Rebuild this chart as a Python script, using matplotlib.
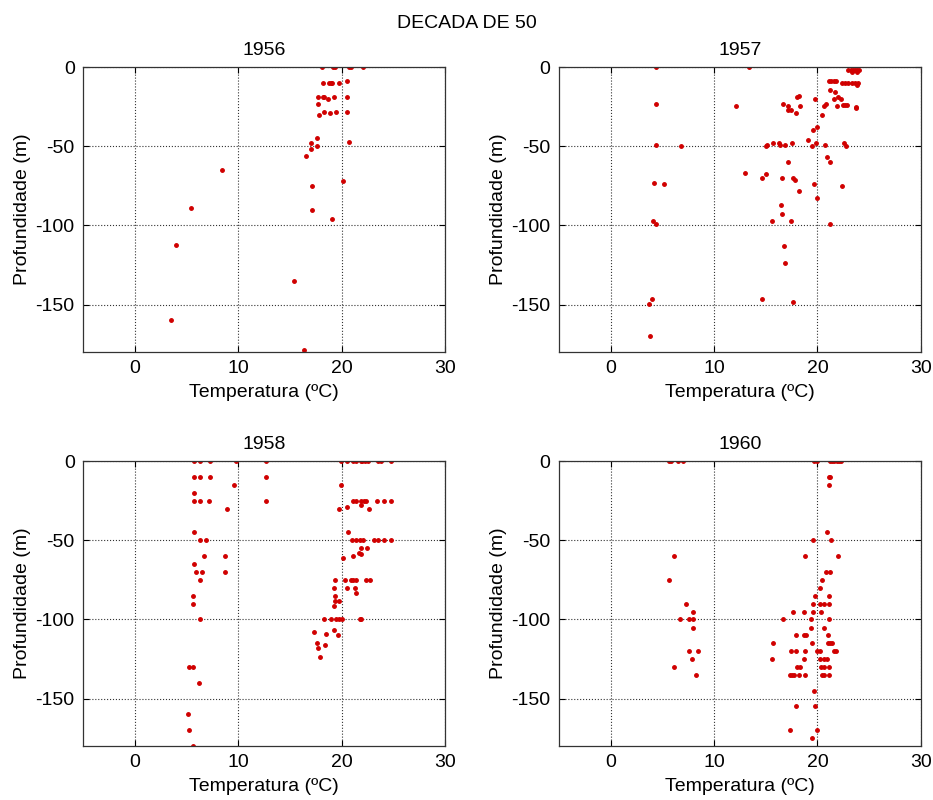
import matplotlib
matplotlib.use("Agg")
import matplotlib.pyplot as plt

plt.rcParams['font.family'] = ['Liberation Sans', 'DejaVu Sans']
plt.rcParams['font.size'] = 14
plt.rcParams['axes.unicode_minus'] = False

# 1956
t1956 = [18.1, 19.2, 19.4, 20.7, 20.9, 22.1,
         18.2, 18.8, 19.0, 19.1, 19.75, 20.5,
         17.7, 18.2, 18.3, 18.7, 19.3, 20.5,
         17.7, 18.3, 18.9, 19.5, 20.5, 17.8,
         17.6, 17.0, 17.6, 17.0, 20.7, 16.6,
         8.4, 17.1, 20.1, 5.4, 17.1, 19.1,
         4.0, 15.4, 3.5, 16.4]
z1956 = [0, 0, 0, 0, 0, 0,
         -10, -10, -10, -10, -10, -9,
         -19, -19, -19, -20, -19, -19,
         -23, -28, -29, -28, -28, -30,
         -45, -48, -50, -52, -47, -56,
         -65, -75, -72, -89, -90, -96,
         -112.5, -135, -159.5, -178.5]

# 1957
t1957 = [4.4, 13.4,
         23.0, 23.2, 23.4, 23.6, 23.8, 24.0, 23.3, 23.8,
         21.1, 21.3, 21.6, 21.8,
         22.4, 22.7, 23.0, 23.3, 23.6, 23.9, 23.8,
         21.2, 21.7, 22.0, 22.3, 21.6, 19.8, 18.0, 18.2,
         4.35, 16.7, 20.8, 12.1, 17.2, 18.3, 20.6, 21.9, 17.2, 17.4, 17.9, 22.5, 22.7, 22.9, 23.75, 23.7,
         20.4, 20.0, 19.6, 19.1, 19.9, 22.6, 15.7, 16.3, 17.5, 19.5, 22.8, 20.7, 4.35, 15.1, 16.4, 16.9, 6.8, 15.0,
         17.2, 21.2, 20.9,
         13.0, 14.6, 16.6, 17.6, 15.0, 17.8, 18.2,
         4.2, 5.2, 19.7, 22.4,
         20.0, 16.5, 16.6, 15.6, 17.4, 4.1, 4.4, 21.2,
         16.8, 16.9, 14.6, 4.0, 3.7, 17.6, 3.8]
z1957 = [0, 0,
         -2, -2, -2, -2, -2, -2, -3, -3,
         -9, -9, -9, -9,
         -10, -10, -10, -10, -10, -10, -11,
         -14.4, -15.7, -18.6, -20, -20, -20, -19, -18,
         -23.5, -23.5, -23.5, -24.6, -24.6, -24.6, -24.6, -24.6, -27, -27, -28.8, -24, -24, -24, -25, -26,
         -30, -37.7, -39.8, -45.8, -47.7, -47.7, -47.7, -47.7, -47.7, -49.8, -49.8, -49, -49, -49, -49, -49, -50, -50,
         -60, -60, -56.8,
         -67, -70, -70, -70, -67.4, -71.6, -78,
         -72.9, -74, -74, -74.8,
         -82.8, -86.9, -92.8, -97, -97, -97, -99, -99,
         -113, -124, -146.6, -146.6, -149.4, -148.5, -170]

# 1958
t1958 = [5.7, 6.3, 7.3, 9.8, 12.7, 19.9, 20.5, 21.1, 21.4, 21.9, 22.0, 22.3, 22.55, 23.5, 23.8, 24.8,
         5.7, 6.35, 7.3, 12.7,
         9.6, 19.9,
         5.7,
         5.7, 6.3, 7.2, 12.7, 21.1, 21.4, 21.9, 22.2, 22.4, 23.4, 24.1, 24.8,
         21.9, 22.6, 20.5, 19.7, 8.9,
         5.7, 20.6,
         6.35, 6.9, 21.0, 21.4, 21.8, 22.1, 23.1, 23.5, 24.1, 24.8,
         21.9, 22.5, 21.7, 21.9, 20.1, 21.1, 6.7, 8.7,
         5.7, 5.9, 6.5, 8.7, 6.35,
         19.35, 20.3, 20.95, 21.1, 21.4, 22.4, 22.7,
         20.5, 21.3, 21.4, 19.25, 19.4, 19.35, 19.7, 19.3, 5.6, 5.6, 6.35,
         18.3, 18.95, 19.5, 19.75, 20.0, 21.8, 21.9,
         19.25, 19.65, 17.3, 18.5, 17.6, 18.4, 17.7, 17.9,
         5.2, 5.6, 6.2, 5.1, 5.2, 5.6]
z1958 = [0, 0, 0, 0, 0, 0, 0, 0, 0, 0, 0, 0, 0, 0, 0, 0,
         -10, -10, -10, -10,
         -15, -15,
         -20,
         -25, -25, -25, -25, -25, -25, -25, -25, -25, -25, -25, -25,
         -27.7, -30, -29, -30, -30,
         -44.8, -44.8,
         -50, -50, -50, -50, -50, -50, -50, -50, -50, -50,
         -55, -55, -58, -58.7, -61.3, -60.2, -60, -60,
         -65, -70, -70, -70, -75,
         -75, -75, -75, -75, -75, -75, -75,
         -80, -80, -83, -80, -85, -88.5, -88.5, -91.7, -85, -90, -100,
         -100, -100, -100, -100, -100, -100, -100,
         -107, -110, -108, -109, -115, -116, -118, -124,
         -130, -130, -140, -160, -170, -180]

# 1960
t1960 = [5.6, 5.85, 6.5, 7.0, 19.7, 20.0, 21.2, 21.4, 21.6, 21.9, 22.1, 22.3,
         21.1, 21.2, 21.1,
         20.9, 19.6, 21.3, 22.0, 18.75, 6.1, 5.6,
         20.85, 21.2, 20.4, 20.2, 19.8, 21.15,
         19.6, 20.2, 20.6, 21.1, 7.3,
         7.96, 17.6, 18.7, 19.6, 20.3,
         6.7, 7.6, 8.0, 16.7, 19.4, 21.1,
         8.0, 19.4, 20.6,
         17.9, 18.7, 18.9, 21.0,
         15.7, 19.5, 21.0, 21.2, 21.4,
         7.6, 8.5, 17.4, 17.9, 18.8, 20.0, 20.2, 21.6, 21.8,
         7.9, 15.6, 18.7, 20.2, 20.6, 20.9,
         18.0, 18.3, 20.3, 20.6, 21.1, 6.1,
         8.25, 17.3, 17.5, 17.7, 18.2, 18.8, 20.4, 20.6, 21.1,
         19.7, 17.9, 19.8, 17.3, 20.0, 19.5]
z1960 = [0, 0, 0, 0, 0, 0, 0, 0, 0, 0, 0, 0,
         -10, -10, -15,
         -44.8, -50, -50, -60, -60, -60, -75,
         -70, -70, -75, -80, -85, -85,
         -90, -90, -90, -90, -90,
         -95, -95, -95, -95, -95,
         -100, -100, -100, -100, -100, -100,
         -105.6, -105.6, -105.6,
         -110, -110, -110, -110,
         -115, -115, -115, -115, -115,
         -120, -120, -120, -120, -120, -120, -120, -120, -120,
         -125, -125, -125, -125, -125, -125,
         -130, -130, -130, -130, -130, -130,
         -135, -135, -135, -135, -135, -135, -135, -135, -135,
         -145, -155, -155, -170, -170, -175]

years = ['1956', '1957', '1958', '1960']
temps = [t1956, t1957, t1958, t1960]
depths = [z1956, z1957, z1958, z1960]

xticks = [0, 10, 20, 30]
yticks = [-150, -100, -50, 0]

fig = plt.figure(figsize=(9.33, 8), dpi=100)
fig.suptitle('DECADA DE 50', x=0.5, y=0.981, fontsize=14)

positions = [
    [0.089, 0.560, 0.388, 0.356],
    [0.599, 0.560, 0.388, 0.356],
    [0.089, 0.0675, 0.388, 0.356],
    [0.599, 0.0675, 0.388, 0.356],
]

for pos, yr, t, z in zip(positions, years, temps, depths):
    ax = fig.add_axes(pos)
    ax.plot(t, z, linestyle='none', marker='.', markersize=5, color='#d00000')
    ax.set_xlim(-5, 30)
    ax.set_ylim(-180, 0)
    ax.set_xticks(xticks)
    ax.set_yticks(yticks)
    ax.grid(True, linestyle=':', color='#333333', linewidth=0.8)
    ax.tick_params(direction='in', top=True, right=True, length=4, pad=6)
    for s in ax.spines.values():
        s.set_linewidth(0.9)
        s.set_color('#333333')
    ax.set_title(yr, fontsize=14, pad=9)
    ax.set_xlabel('Temperatura (ºC)', labelpad=5)
    ax.set_ylabel('Profundidade (m)', labelpad=3)

fig.savefig('out.png', dpi=100)
